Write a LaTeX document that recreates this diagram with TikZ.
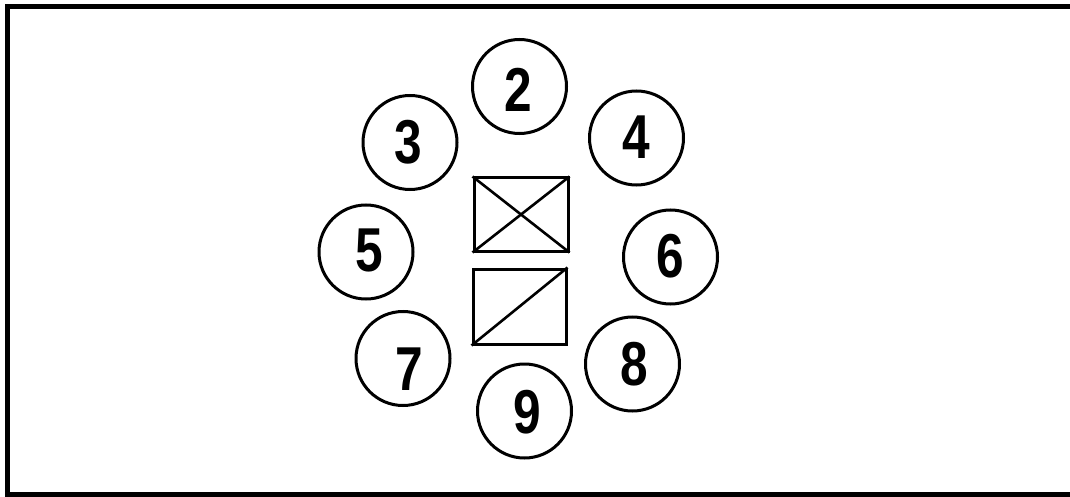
\documentclass[tikz,border=0pt]{standalone}
\usepackage{fontspec}
\setmainfont{Liberation Sans}
\begin{document}
\begin{tikzpicture}[x=1pt,y=-1pt,
  pin/.style={draw,circle,line width=3pt,minimum size=94pt,inner sep=0pt},
  digit/.style={font=\fontsize{62}{62}\selectfont\bfseries,xscale=0.8,inner sep=0pt},
  sw/.style={draw,rectangle,line width=3pt,inner sep=0pt,minimum width=94pt,minimum height=74pt},
  diag/.style={line width=2.6pt}]
\useasboundingbox (0,0) rectangle (1070,497);
\clip (0,0) rectangle (1070,497);
\fill[white] (0,0) rectangle (1070,497);
\draw[line width=5pt] (7.5,6.5) rectangle (1080,494);
% pins
\node[pin] (p2) at (519.5,86.5) {};
\node[pin] (p3) at (410,142.5) {};
\node[pin] (p4) at (636.5,138) {};
\node[pin] (p5) at (366,252) {};
\node[pin] (p6) at (670.5,257) {};
\node[pin] (p7) at (403,358.5) {};
\node[pin] (p8) at (632.5,364) {};
\node[pin] (p9) at (524.5,411) {};
\node[digit] (d2) at (518.5,89.5) {2};
\node[digit] (d3) at (408.5,142.5) {3};
\node[digit] (d4) at (636,137.5) {4};
\node[digit] (d5) at (369,250) {5};
\node[digit] (d6) at (670.5,256.5) {6};
\node[digit] (d7) at (409.5,369.5) {7};
\node[digit] (d8) at (634.5,364) {8};
\node[digit] (d9) at (527.5,412.5) {9};
% switches
\node[sw,minimum width=94pt,minimum height=73pt] (b1) at (521,214.5) {};
\node[sw,minimum width=93pt,minimum height=75pt] (b2) at (519.5,306.5) {};
\draw[diag] (b1.north west) -- (b1.south east);
\draw[diag] (b1.south west) -- (b1.north east);
\draw[diag] (b2.south west) -- (b2.north east);
\end{tikzpicture}
\end{document}
